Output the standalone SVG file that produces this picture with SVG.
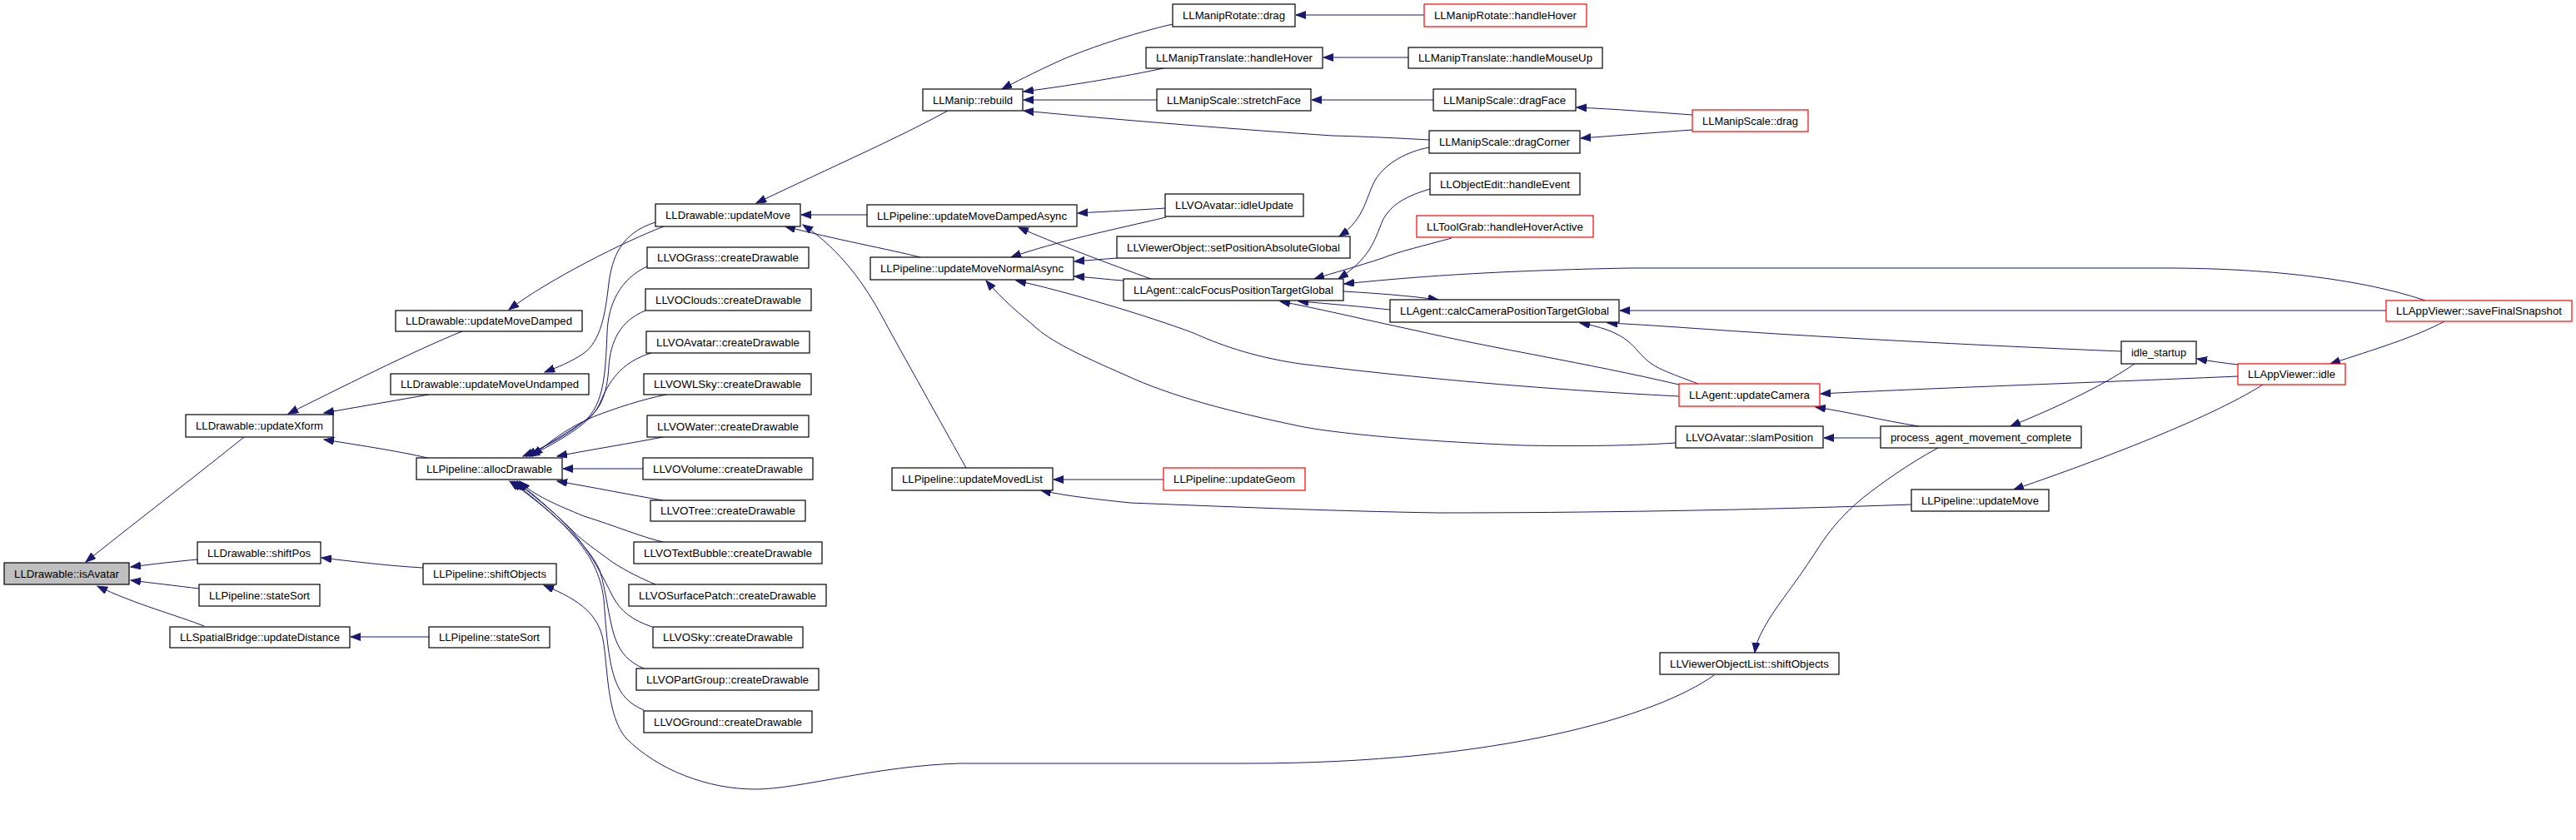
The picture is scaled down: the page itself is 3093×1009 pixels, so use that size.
<svg xmlns="http://www.w3.org/2000/svg" width="3093" height="1009" viewBox="0 0 3093 1009">
<style>
.node rect{fill:#fff;stroke:#000;stroke-width:1.2}
.node.red rect{stroke:#f00}
.node.cur rect{fill:#bfbfbf}
.node text{font-family:"Liberation Sans",Arial,sans-serif;font-size:13px;fill:#000;text-anchor:middle}
#edges path{fill:none;stroke:#191970;stroke-width:1;marker-end:url(#ah)}
</style>
<defs>
<marker id="ah" markerUnits="userSpaceOnUse" markerWidth="13" markerHeight="10" refX="12" refY="4.5" orient="auto">
<path d="M0,0 L12,4.5 L0,9 z" fill="#191970" stroke="#191970" stroke-width="1"/>
</marker>
</defs>
<rect x="0" y="0" width="3093" height="1009" fill="#fff"/>
<g id="edges">
<path d="M293,525 C250,560 140,645 103,675"/>
<path d="M237,672 C215,674 180,678 157,681"/>
<path d="M239,707 C215,704 180,700 157,697"/>
<path d="M245,752 C215,740 160,725 117,704"/>
<path d="M555,398 C500,420 400,470 346,497"/>
<path d="M515,474 L389,496"/>
<path d="M513,550 C480,542 420,533 389,528"/>
<path d="M508,682 C470,680 420,674 386,670"/>
<path d="M515,765 L421,765"/>
<path d="M797,272 C750,290 660,335 611,372"/>
<path d="M787,267 C745,280 735,310 731,340 C727,375 722,410 700,425 C685,435 670,441 654,447"/>
<path d="M777,320 C745,335 730,365 729,400 C727,440 727,480 705,503 C685,520 660,535 628,548"/>
<path d="M775,373 C745,385 733,410 731,440 C729,475 720,495 700,507 C680,520 660,533 632,548"/>
<path d="M782,424 C745,435 730,460 720,485 C710,505 690,520 636,548"/>
<path d="M800,474 C770,480 740,490 714,500 C690,510 665,525 640,548"/>
<path d="M796,525 C760,532 710,540 669,548"/>
<path d="M772,563 L676,563"/>
<path d="M796,601 C760,595 710,585 669,578"/>
<path d="M796,651 C770,645 740,632 701,620 C670,607 640,595 624,578"/>
<path d="M787,702 C770,695 750,685 735,675 C715,660 700,650 690,640 C660,610 635,590 621,578"/>
<path d="M783,753 C760,745 745,735 735,715 C725,695 715,675 700,655 C680,625 640,595 618,578"/>
<path d="M773,803 C755,795 745,785 738,765 C730,740 728,710 720,685 C705,650 650,605 615,578"/>
<path d="M773,853 C755,845 745,835 738,815 C730,790 728,760 725,720 C720,680 700,640 612,578"/>
<path d="M2058,811 C1990,860 1800,917 1497,917 L1153,917 C1050,920 960,948 907,948 C850,948 790,925 752,887 C728,860 730,800 724,768 C718,740 700,722 653,703"/>
<path d="M1041,258 L962,258"/>
<path d="M1105,309 C1070,300 1000,287 943,272"/>
<path d="M1160,562 C1120,490 1075,410 1059,380 C1040,345 1010,300 964,270"/>
<path d="M1138,133 C1080,165 1000,200 908,244"/>
<path d="M1408,29 C1360,40 1300,60 1268,75 C1240,88 1220,98 1203,107"/>
<path d="M1397,82 C1350,92 1290,102 1229,110"/>
<path d="M1389,120 L1229,120"/>
<path d="M1716,168 C1680,166 1640,164 1600,163 C1450,153 1300,140 1229,133"/>
<path d="M1710,18 L1556,18"/>
<path d="M1691,69 L1589,69"/>
<path d="M1721,120 L1575,120"/>
<path d="M2032,138 C1990,135 1940,131 1893,129"/>
<path d="M2032,156 C1990,159 1940,163 1898,166"/>
<path d="M1400,250 C1370,252 1330,254 1294,256"/>
<path d="M1400,261 C1340,275 1268,290 1214,309"/>
<path d="M1341,310 L1290,314"/>
<path d="M1349,337 C1330,336 1310,333 1290,332"/>
<path d="M1382,335 C1340,320 1260,290 1223,273"/>
<path d="M1716,177 C1690,182 1665,195 1652,215 C1640,235 1640,262 1608,284"/>
<path d="M1717,227 C1690,235 1670,245 1660,265 C1650,290 1645,310 1607,335"/>
<path d="M1743,286 C1710,295 1680,302 1660,310 C1630,320 1600,328 1578,335"/>
<path d="M2912,361 C2850,340 2750,323 2609,322 L1957,322 C1800,325 1700,332 1614,341"/>
<path d="M1613,350 C1650,352 1690,355 1727,360"/>
<path d="M1669,372 C1640,369 1600,365 1559,362"/>
<path d="M2016,462 C1900,435 1800,420 1700,397 C1630,382 1580,370 1537,362"/>
<path d="M2039,461 C2010,450 1995,445 1983,437 C1970,428 1965,418 1955,410 C1940,398 1920,392 1897,388"/>
<path d="M2016,476 C1900,470 1750,460 1561,437 C1500,428 1460,412 1433,400 C1380,380 1280,350 1220,337"/>
<path d="M2012,532 C1950,536 1880,536 1830,535 C1700,530 1600,520 1561,512 C1480,495 1408,477 1350,450 C1300,428 1260,410 1240,390 C1215,370 1195,350 1184,337"/>
<path d="M2865,373 L1945,373"/>
<path d="M2547,422 C2450,418 2300,411 2150,402 C2050,396 1980,390 1930,388"/>
<path d="M2687,452 C2550,458 2300,467 2186,473"/>
<path d="M2304,512 C2260,505 2220,495 2180,489"/>
<path d="M2258,526 L2190,526"/>
<path d="M2563,437 C2530,460 2480,485 2414,512"/>
<path d="M2687,438 C2670,436 2655,434 2638,431"/>
<path d="M2935,386 C2900,405 2850,420 2798,437"/>
<path d="M2717,462 C2650,505 2500,560 2418,588"/>
<path d="M2295,606 C2100,613 1900,616 1727,616 C1600,614 1459,608 1357,604 C1320,600 1280,596 1250,589"/>
<path d="M1397,576 L1265,576"/>
<path d="M2327,538 C2290,558 2260,580 2238,597 C2210,620 2195,640 2182,660 C2150,710 2130,730 2115,760 C2110,770 2108,776 2107,784"/>
</g>
<g id="n-isAvatar" class="node cur"><rect x="5" y="676" width="150" height="26"/><text x="80" y="693.5" textLength="126" lengthAdjust="spacingAndGlyphs">LLDrawable::isAvatar</text></g>
<g id="n-updateXform" class="node"><rect x="223" y="498" width="177" height="27"/><text x="311.5" y="516" textLength="153" lengthAdjust="spacingAndGlyphs">LLDrawable::updateXform</text></g>
<g id="n-shiftPos" class="node"><rect x="237" y="651" width="148" height="26"/><text x="311" y="668.5" textLength="124" lengthAdjust="spacingAndGlyphs">LLDrawable::shiftPos</text></g>
<g id="n-stateSort1" class="node"><rect x="239" y="702" width="145" height="26"/><text x="311.5" y="719.5" textLength="121" lengthAdjust="spacingAndGlyphs">LLPipeline::stateSort</text></g>
<g id="n-updateDistance" class="node"><rect x="204" y="753" width="216" height="25"/><text x="312" y="770" textLength="192" lengthAdjust="spacingAndGlyphs">LLSpatialBridge::updateDistance</text></g>
<g id="n-updateMoveDamped" class="node"><rect x="475" y="373" width="224" height="25"/><text x="587" y="390" textLength="200" lengthAdjust="spacingAndGlyphs">LLDrawable::updateMoveDamped</text></g>
<g id="n-updateMoveUndamped" class="node"><rect x="469" y="449" width="238" height="25"/><text x="588" y="466" textLength="214" lengthAdjust="spacingAndGlyphs">LLDrawable::updateMoveUndamped</text></g>
<g id="n-allocDrawable" class="node"><rect x="500" y="550" width="175" height="26"/><text x="587.5" y="567.5" textLength="151" lengthAdjust="spacingAndGlyphs">LLPipeline::allocDrawable</text></g>
<g id="n-shiftObjects" class="node"><rect x="508" y="677" width="160" height="25"/><text x="588" y="694" textLength="136" lengthAdjust="spacingAndGlyphs">LLPipeline::shiftObjects</text></g>
<g id="n-stateSort2" class="node"><rect x="515" y="753" width="145" height="25"/><text x="587.5" y="770" textLength="121" lengthAdjust="spacingAndGlyphs">LLPipeline::stateSort</text></g>
<g id="n-updateMove" class="node"><rect x="787" y="245" width="174" height="27"/><text x="874" y="263" textLength="150" lengthAdjust="spacingAndGlyphs">LLDrawable::updateMove</text></g>
<g id="n-grass" class="node"><rect x="777" y="297" width="194" height="25"/><text x="874" y="314" textLength="170" lengthAdjust="spacingAndGlyphs">LLVOGrass::createDrawable</text></g>
<g id="n-clouds" class="node"><rect x="775" y="347" width="199" height="26"/><text x="874.5" y="364.5" textLength="175" lengthAdjust="spacingAndGlyphs">LLVOClouds::createDrawable</text></g>
<g id="n-avatarcd" class="node"><rect x="776" y="398" width="196" height="26"/><text x="874" y="415.5" textLength="172" lengthAdjust="spacingAndGlyphs">LLVOAvatar::createDrawable</text></g>
<g id="n-wlsky" class="node"><rect x="773" y="449" width="201" height="25"/><text x="873.5" y="466" textLength="177" lengthAdjust="spacingAndGlyphs">LLVOWLSky::createDrawable</text></g>
<g id="n-water" class="node"><rect x="777" y="499" width="194" height="26"/><text x="874" y="516.5" textLength="170" lengthAdjust="spacingAndGlyphs">LLVOWater::createDrawable</text></g>
<g id="n-volume" class="node"><rect x="772" y="550" width="204" height="26"/><text x="874" y="567.5" textLength="180" lengthAdjust="spacingAndGlyphs">LLVOVolume::createDrawable</text></g>
<g id="n-tree" class="node"><rect x="781" y="601" width="186" height="25"/><text x="874" y="618" textLength="162" lengthAdjust="spacingAndGlyphs">LLVOTree::createDrawable</text></g>
<g id="n-textbubble" class="node"><rect x="761" y="651" width="226" height="26"/><text x="874" y="668.5" textLength="202" lengthAdjust="spacingAndGlyphs">LLVOTextBubble::createDrawable</text></g>
<g id="n-surfacepatch" class="node"><rect x="755" y="702" width="237" height="26"/><text x="873.5" y="719.5" textLength="213" lengthAdjust="spacingAndGlyphs">LLVOSurfacePatch::createDrawable</text></g>
<g id="n-sky" class="node"><rect x="784" y="753" width="180" height="25"/><text x="874" y="770" textLength="156" lengthAdjust="spacingAndGlyphs">LLVOSky::createDrawable</text></g>
<g id="n-partgroup" class="node"><rect x="764" y="803" width="219" height="26"/><text x="873.5" y="820.5" textLength="195" lengthAdjust="spacingAndGlyphs">LLVOPartGroup::createDrawable</text></g>
<g id="n-ground" class="node"><rect x="773" y="854" width="202" height="26"/><text x="874" y="871.5" textLength="178" lengthAdjust="spacingAndGlyphs">LLVOGround::createDrawable</text></g>
<g id="n-rebuild" class="node"><rect x="1108" y="107" width="120" height="26"/><text x="1168" y="124.5" textLength="96" lengthAdjust="spacingAndGlyphs">LLManip::rebuild</text></g>
<g id="n-dampedAsync" class="node"><rect x="1041" y="246" width="252" height="26"/><text x="1167" y="263.5" textLength="228" lengthAdjust="spacingAndGlyphs">LLPipeline::updateMoveDampedAsync</text></g>
<g id="n-normalAsync" class="node"><rect x="1045" y="309" width="244" height="27"/><text x="1167" y="327" textLength="220" lengthAdjust="spacingAndGlyphs">LLPipeline::updateMoveNormalAsync</text></g>
<g id="n-updateMovedList" class="node"><rect x="1071" y="562" width="193" height="27"/><text x="1167.5" y="580" textLength="169" lengthAdjust="spacingAndGlyphs">LLPipeline::updateMovedList</text></g>
<g id="n-rotateDrag" class="node"><rect x="1408" y="5" width="147" height="27"/><text x="1481.5" y="23" textLength="123" lengthAdjust="spacingAndGlyphs">LLManipRotate::drag</text></g>
<g id="n-translateHover" class="node"><rect x="1376" y="57" width="212" height="25"/><text x="1482" y="74" textLength="188" lengthAdjust="spacingAndGlyphs">LLManipTranslate::handleHover</text></g>
<g id="n-stretchFace" class="node"><rect x="1389" y="107" width="185" height="26"/><text x="1481.5" y="124.5" textLength="161" lengthAdjust="spacingAndGlyphs">LLManipScale::stretchFace</text></g>
<g id="n-idleUpdate" class="node"><rect x="1399" y="233" width="166" height="27"/><text x="1482" y="251" textLength="142" lengthAdjust="spacingAndGlyphs">LLVOAvatar::idleUpdate</text></g>
<g id="n-setPosAbs" class="node"><rect x="1341" y="284" width="280" height="26"/><text x="1481" y="301.5" textLength="256" lengthAdjust="spacingAndGlyphs">LLViewerObject::setPositionAbsoluteGlobal</text></g>
<g id="n-calcFocus" class="node"><rect x="1349" y="335" width="264" height="26"/><text x="1481" y="352.5" textLength="240" lengthAdjust="spacingAndGlyphs">LLAgent::calcFocusPositionTargetGlobal</text></g>
<g id="n-updateGeom" class="node red"><rect x="1397" y="562" width="170" height="27"/><text x="1482" y="580" textLength="146" lengthAdjust="spacingAndGlyphs">LLPipeline::updateGeom</text></g>
<g id="n-rotateHover" class="node red"><rect x="1710" y="5" width="195" height="27"/><text x="1807.5" y="23" textLength="171" lengthAdjust="spacingAndGlyphs">LLManipRotate::handleHover</text></g>
<g id="n-mouseUp" class="node"><rect x="1691" y="57" width="233" height="25"/><text x="1807.5" y="74" textLength="209" lengthAdjust="spacingAndGlyphs">LLManipTranslate::handleMouseUp</text></g>
<g id="n-dragFace" class="node"><rect x="1721" y="107" width="171" height="26"/><text x="1806.5" y="124.5" textLength="147" lengthAdjust="spacingAndGlyphs">LLManipScale::dragFace</text></g>
<g id="n-dragCorner" class="node"><rect x="1716" y="157" width="181" height="27"/><text x="1806.5" y="175" textLength="157" lengthAdjust="spacingAndGlyphs">LLManipScale::dragCorner</text></g>
<g id="n-handleEvent" class="node"><rect x="1717" y="208" width="180" height="26"/><text x="1807" y="225.5" textLength="156" lengthAdjust="spacingAndGlyphs">LLObjectEdit::handleEvent</text></g>
<g id="n-toolGrab" class="node red"><rect x="1701" y="259" width="212" height="26"/><text x="1807" y="276.5" textLength="188" lengthAdjust="spacingAndGlyphs">LLToolGrab::handleHoverActive</text></g>
<g id="n-calcCamera" class="node"><rect x="1669" y="360" width="275" height="27"/><text x="1806.5" y="378" textLength="251" lengthAdjust="spacingAndGlyphs">LLAgent::calcCameraPositionTargetGlobal</text></g>
<g id="n-scaleDrag" class="node red"><rect x="2032" y="132" width="139" height="26"/><text x="2101.5" y="149.5" textLength="115" lengthAdjust="spacingAndGlyphs">LLManipScale::drag</text></g>
<g id="n-updateCamera" class="node red"><rect x="2016" y="461" width="169" height="27"/><text x="2100.5" y="479" textLength="145" lengthAdjust="spacingAndGlyphs">LLAgent::updateCamera</text></g>
<g id="n-slamPosition" class="node"><rect x="2012" y="512" width="177" height="26"/><text x="2100.5" y="529.5" textLength="153" lengthAdjust="spacingAndGlyphs">LLVOAvatar::slamPosition</text></g>
<g id="n-volShift" class="node"><rect x="1993" y="784" width="215" height="26"/><text x="2100.5" y="801.5" textLength="191" lengthAdjust="spacingAndGlyphs">LLViewerObjectList::shiftObjects</text></g>
<g id="n-process" class="node"><rect x="2258" y="512" width="241" height="26"/><text x="2378.5" y="529.5" textLength="217" lengthAdjust="spacingAndGlyphs">process_agent_movement_complete</text></g>
<g id="n-pipeUpdateMove" class="node"><rect x="2295" y="588" width="165" height="26"/><text x="2377.5" y="605.5" textLength="141" lengthAdjust="spacingAndGlyphs">LLPipeline::updateMove</text></g>
<g id="n-idleStartup" class="node"><rect x="2547" y="410" width="90" height="27"/><text x="2592" y="428" textLength="66" lengthAdjust="spacingAndGlyphs">idle_startup</text></g>
<g id="n-idle" class="node red"><rect x="2687" y="437" width="129" height="25"/><text x="2751.5" y="454" textLength="105" lengthAdjust="spacingAndGlyphs">LLAppViewer::idle</text></g>
<g id="n-saveFinal" class="node red"><rect x="2865" y="361" width="223" height="25"/><text x="2976.5" y="378" textLength="199" lengthAdjust="spacingAndGlyphs">LLAppViewer::saveFinalSnapshot</text></g>
</svg>
